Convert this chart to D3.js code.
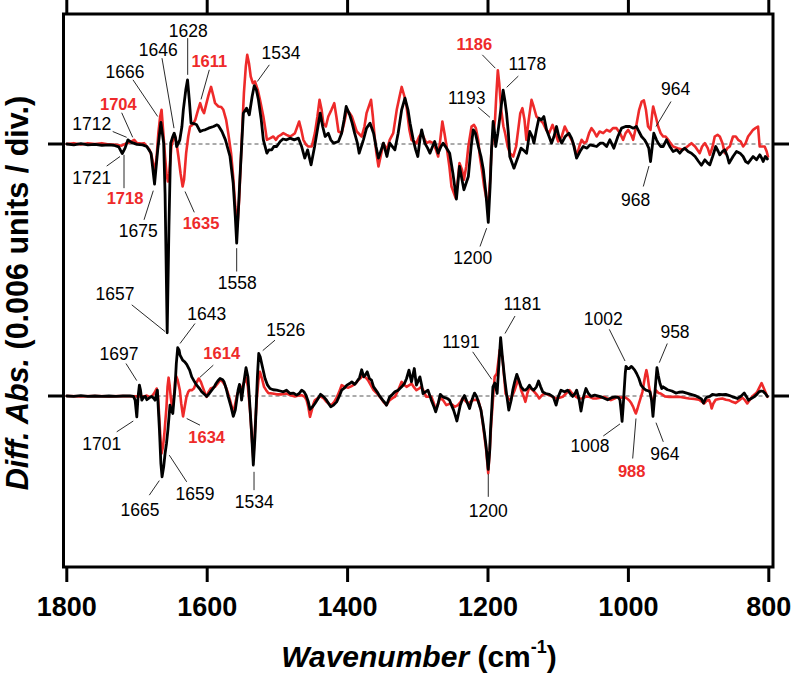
<!DOCTYPE html>
<html><head><meta charset="utf-8">
<script src="https://cdn.jsdelivr.net/npm/d3@7/dist/d3.min.js"></script>
<style>
html,body{margin:0;padding:0;background:#fff;}
svg{display:block;font-family:"Liberation Sans",Arial,Helvetica,sans-serif;}
</style></head>
<body><svg id="c" width="791" height="674"></svg>
<script>
// x: wavenumber (cm-1); values: difference absorbance in units of 1e-5
const xTicks = [1800, 1600, 1400, 1200, 1000, 800];

const upperBlack = [[1800,0],[1790,-2],[1780,1],[1770,-2],[1760,-1],[1750,-3],[1740,-2],[1733,-3],[1726,-7],[1721,-23],[1717,-10],[1713,10],[1708,4],[1700,-1],[1692,-2],[1686,-6],[1680,-22],[1675,-96],[1670.5,-14],[1666,52],[1662,2],[1660,-120],[1657,-453],[1654.5,-200],[1652,2],[1649,18],[1647,26],[1645,14],[1643.5,-6],[1641,2],[1639,10],[1636,42],[1634,82],[1630.5,130],[1628,154],[1625.5,106],[1623,50],[1619,49],[1615,46],[1610,30],[1606,33],[1603,34],[1598,38],[1591,42],[1586,46],[1584,44],[1579,30],[1574,10],[1567.5,-30],[1563,-94],[1560,-174],[1558,-238],[1556,-174],[1553.5,-86],[1550.5,10],[1548.5,74],[1544,86],[1540,70],[1536,114],[1533,140],[1530,130],[1527,106],[1523,58],[1520,10],[1515,-22],[1512,-14],[1508,-14],[1505,-6],[1501,-6],[1496,6],[1492,12],[1487,10],[1482,14],[1476,10],[1470,14],[1465.5,-6],[1461,-34],[1457,-14],[1452,-50],[1447,-6],[1443,34],[1439,74],[1435.5,42],[1432,18],[1427.5,26],[1424,10],[1420,2],[1413,6],[1408.5,26],[1405,58],[1402,90],[1397,70],[1393.5,50],[1390,26],[1386,2],[1383.5,-22],[1377.5,10],[1373,38],[1368,50],[1363,26],[1359.5,-6],[1356,-34],[1349,2],[1344,-30],[1340,2],[1332.6,-14],[1328,26],[1323,82],[1318.3,110],[1314,82],[1311,50],[1306.5,10],[1303,-14],[1300,-30],[1297,10],[1294.5,34],[1290,2],[1286,-10],[1282.7,-22],[1279,-6],[1276,6],[1271,-22],[1267,-6],[1264,2],[1259,-10],[1254.6,-22],[1250,-70],[1245,-132],[1240.6,-54],[1234.3,-110],[1228,-78],[1224,-6],[1221,34],[1218,26],[1213.7,-6],[1210,-30],[1206.6,-62],[1203,-118],[1199.6,-188],[1197,-102],[1195,-14],[1192.7,54],[1190.5,26],[1189,-6],[1186,26],[1183,66],[1178.4,129],[1176,105],[1173.6,74],[1171,26],[1169,-30],[1163,-58],[1157,-30],[1153,-10],[1150,-14],[1145,-22],[1140.5,30],[1137,18],[1134.6,2],[1131,34],[1127.5,62],[1124,58],[1120.4,66],[1116.6,34],[1113,18],[1109.5,2],[1106,18],[1102.4,42],[1099,18],[1095,2],[1090,18],[1084.8,26],[1081,14],[1078.6,2],[1073.8,-34],[1069,-18],[1064.4,-6],[1059,-10],[1054.8,-2],[1050,-4],[1045.3,-6],[1040,2],[1035.9,2],[1031,-6],[1026.4,10],[1020.7,-10],[1015,18],[1009.7,38],[1004,42],[998,42],[993,38],[988.5,42],[985,30],[981.3,18],[977,10],[974.2,2],[971,-10],[968.5,-42],[966,-6],[963.8,26],[960,10],[957.6,2],[954,-6],[950.5,-6],[945.7,10],[941,-6],[936.3,-18],[931,-14],[926.8,-22],[923,-14],[919.7,-10],[915,-18],[910.2,-22],[905,-30],[900,-42],[896,-51],[891,-38],[887,-46],[884,-50],[880,-30],[875.6,-6],[872,-18],[869.8,-26],[866,-18],[862.7,-14],[859,-30],[856.5,-46],[851,-30],[846,-18],[841,-22],[836.6,-30],[833,-42],[829.5,-46],[826,-38],[822.4,-30],[817.5,-38],[812.8,-26],[810,-34],[808,-42],[805,-30],[802,-36]];

const upperRed = [[1800,0],[1790,2],[1780,-1],[1770,2],[1760,0],[1750,2],[1740,-1],[1730,-2],[1722,-4],[1716,1],[1710,4],[1704,10],[1700,2],[1694,1],[1690,2],[1686,-6],[1682,-14],[1679,-30],[1676,-54],[1674,-62],[1672,-30],[1669.6,26],[1667,66],[1665,82],[1662.5,26],[1660,-30],[1658,-70],[1656,-90],[1654,-70],[1651,-6],[1648,14],[1645.8,18],[1643,-6],[1641,-30],[1638,-70],[1635,-102],[1633,-86],[1630,-22],[1627,18],[1624.4,42],[1621,46],[1617,58],[1613,82],[1610,98],[1607,82],[1604.5,74],[1601,98],[1598,118],[1594.5,137],[1591,114],[1588.8,98],[1584,90],[1580,89],[1577,82],[1573,58],[1570,26],[1566,-22],[1563,-78],[1560,-150],[1557,-198],[1554.5,-134],[1552,-38],[1549.5,58],[1547.7,122],[1545,186],[1543,214],[1540.5,194],[1538,162],[1535,146],[1532,150],[1528,130],[1524.8,106],[1520,66],[1517,34],[1515,10],[1510,14],[1505.8,18],[1502,10],[1499,18],[1495,22],[1491.6,26],[1487,22],[1482,18],[1478,22],[1475,26],[1469,54],[1466,34],[1463,10],[1459,-2],[1456,-6],[1451,-6],[1446.6,26],[1443,66],[1440,106],[1437,82],[1434.6,50],[1431,42],[1427.5,66],[1423,82],[1419,98],[1416,66],[1413,30],[1408.5,26],[1405,50],[1401,82],[1397,74],[1394,66],[1390,46],[1387,30],[1380,18],[1376,42],[1373,74],[1366.6,106],[1364,66],[1362,26],[1359,-22],[1356,-54],[1352,-22],[1349,2],[1344,-14],[1340,10],[1335,26],[1330,82],[1326,114],[1323,137],[1319,114],[1316,90],[1312,34],[1309,10],[1302,2],[1298,18],[1294.5,26],[1290,10],[1287.6,2],[1283,6],[1278,2],[1274,-14],[1271,-30],[1268,10],[1265,54],[1262,26],[1259,-6],[1255,-54],[1252,-102],[1246,-130],[1243,-86],[1240.6,-46],[1237,-62],[1234.3,-86],[1231,-54],[1228,-6],[1223.4,42],[1220,46],[1217.3,38],[1214,10],[1211.6,-30],[1208,-70],[1205.5,-102],[1202,-134],[1199.6,-142],[1197,-86],[1195,-14],[1192,26],[1190,58],[1188,122],[1186,177],[1184,146],[1181.2,82],[1178,42],[1175.6,26],[1172,-6],[1168.8,-22],[1164,-30],[1160,-6],[1157,34],[1154,74],[1151,86],[1148,58],[1145.3,10],[1142,58],[1138,106],[1135,90],[1131,66],[1126,58],[1121.5,50],[1117,34],[1113,26],[1108,46],[1104,26],[1100,6],[1095,18],[1090.6,42],[1086,26],[1081,10],[1077,-6],[1073.8,-30],[1070,-6],[1066.7,10],[1063,2],[1059.6,6],[1056,26],[1052.5,38],[1049,30],[1045.3,18],[1041,30],[1035.9,26],[1031,34],[1026.4,30],[1022,38],[1016.9,38],[1012,26],[1007.5,10],[1004,26],[1000.3,34],[996,22],[993.2,10],[989,42],[984.7,82],[981,102],[978,105],[975,82],[972,42],[968.5,34],[966,74],[964.7,90],[961,66],[957.6,42],[954,26],[950.5,18],[947,18],[943.3,10],[940,2],[936.3,-6],[930,-10],[922,-14],[916,-6],[910.2,2],[905,-6],[898.4,-22],[895,-6],[891,2],[887,-10],[884,-26],[880,-6],[877,18],[873,22],[869.8,18],[866,2],[862.7,-22],[859,-10],[855.6,-6],[851,18],[847,18],[843.7,10],[840,6],[836.6,-6],[833,2],[829.5,18],[826,26],[822.4,34],[819,38],[815.3,42],[813,-6],[809,-6],[805.9,-6],[803,-18],[801.2,-30]];

const lowerBlack = [[1800,0],[1790,-1],[1780,1],[1770,-1],[1760,0],[1750,-1],[1740,0],[1730,-1],[1720,0],[1710,0],[1705,-1],[1702.7,-10],[1700.3,-50],[1698.5,-2],[1696.6,26],[1695,14],[1693.2,-10],[1690,-2],[1688,-1],[1686,-9],[1682,-4],[1679,-1],[1676,-6],[1674.3,-10],[1671,14],[1668,-82],[1666,-162],[1664.3,-194],[1662,-170],[1660,-138],[1658,-114],[1656,-82],[1653,-22],[1651,-34],[1649,-42],[1645.8,22],[1644,78],[1642,116],[1640,110],[1638.7,98],[1635,86],[1632,82],[1629.2,76],[1625,62],[1622,46],[1618,34],[1615,26],[1611,18],[1607.8,10],[1604,4],[1600.7,-1],[1597,6],[1593.5,14],[1590,22],[1587.4,30],[1584,38],[1581.7,42],[1578,39],[1576,34],[1573,18],[1570,-2],[1566,-26],[1562.8,-49],[1560,-34],[1558,-10],[1556,14],[1554,28],[1552,6],[1551,-10],[1548,30],[1544.7,68],[1542,46],[1540,-2],[1537,-82],[1534.3,-166],[1532,-98],[1530.4,-34],[1528.5,46],[1526.6,102],[1524.5,94],[1522.4,78],[1517.6,42],[1514,26],[1510.5,18],[1506,15],[1501,14],[1496,12],[1491.6,10],[1487,14],[1482,6],[1477,7],[1472.6,2],[1469,6],[1465.4,14],[1462,10],[1459.3,2],[1456,-14],[1453.6,-32],[1450,-26],[1446.5,-18],[1442,-6],[1438.5,4],[1434,-2],[1430,-10],[1427,-18],[1424,-26],[1420,-22],[1415.6,-14],[1412,-1],[1408.5,14],[1404,20],[1401,26],[1397,30],[1394,34],[1390,28],[1387,34],[1383,44],[1380,63],[1377,46],[1375,50],[1372,58],[1369,42],[1366,38],[1363,22],[1358,10],[1354,-1],[1350,-10],[1346,-18],[1344.6,-22],[1340,-2],[1336,4],[1332.6,10],[1328,14],[1323,22],[1319,30],[1316,42],[1312.6,62],[1309,34],[1305,66],[1302,26],[1299,38],[1297,46],[1294.5,26],[1292.6,6],[1289,10],[1285.5,14],[1283,2],[1280.7,-10],[1277,-26],[1274.5,-38],[1271,-18],[1268,4],[1265,-1],[1261.8,-4],[1258,-6],[1254.7,-10],[1252,-22],[1249,-34],[1246,-50],[1244.3,-60],[1242,-42],[1239.5,-22],[1236,-6],[1233.5,1],[1230,-14],[1226.3,-30],[1223,-10],[1219.2,7],[1216,-2],[1213,-18],[1210,-34],[1207.4,-62],[1205,-90],[1202.6,-122],[1199.7,-176],[1197.5,-130],[1196.4,-82],[1194.5,-26],[1193,22],[1190.3,31],[1188,14],[1187,6],[1185,62],[1182,140],[1179.5,94],[1176.6,46],[1173,-2],[1170.4,-34],[1167,-10],[1164.7,14],[1162,34],[1159,52],[1156,38],[1152.8,22],[1149,14],[1146.7,14],[1144,18],[1141,26],[1138,18],[1134.8,14],[1131,22],[1128,36],[1125,22],[1122,10],[1118,6],[1112.5,4],[1107,-2],[1103,-22],[1100,-2],[1096,14],[1091,10],[1086.5,14],[1082,4],[1079.4,-1],[1076,6],[1073.7,14],[1070,-10],[1067.5,-36],[1064,-2],[1060.4,18],[1057,6],[1053.3,-1],[1048,2],[1041.4,-1],[1036,-4],[1029.6,-9],[1024,-4],[1017.7,-2],[1014,-4],[1012,-10],[1010.5,-34],[1009,-61],[1007.5,-26],[1006,14],[1004.5,54],[1003.4,71],[1001,66],[998.7,66],[996,71],[994,68],[991,62],[988.3,54],[985,42],[982,26],[978,18],[975,14],[971,12],[969.3,10],[967,-10],[965,-49],[963,-10],[961.6,22],[959.3,68],[957.5,50],[955,30],[952.5,18],[950.5,22],[947,18],[944.3,15],[938,12],[932.4,7],[928,9],[923,10],[917,7],[911,4],[905,1],[899,-4],[896,-7],[893,-17],[890,-6],[887.4,-2],[884,-1],[880.3,4],[875,2],[870.8,4],[866,3],[861.3,4],[856,1],[851.8,-2],[848,-4],[844.7,-6],[840,-1],[835,7],[832,-1],[829,-10],[825,-6],[821,-2],[817,4],[814,10],[811,12],[808,11],[805,6],[802,-1]];

const lowerRed = [[1800,0],[1780,-1],[1760,0],[1740,-1],[1720,0],[1700,-1],[1690,-1],[1686,1],[1682,-2],[1679,-1],[1675.8,6],[1672,18],[1670,-2],[1668.3,-50],[1666.5,-106],[1665,-138],[1663,-122],[1661,-90],[1659.5,-58],[1658,-26],[1656.5,22],[1655,44],[1653.5,26],[1652,-2],[1650.5,-22],[1649,-26],[1647,6],[1645.5,38],[1644,47],[1642,38],[1639,14],[1637,-18],[1634.4,-49],[1632,-26],[1629.5,-2],[1627,10],[1625,14],[1622,14],[1619,18],[1616,30],[1612,42],[1609,34],[1606.5,22],[1603,6],[1600.7,-2],[1598,10],[1595,18],[1592,20],[1589,22],[1585,30],[1581.7,39],[1578,34],[1574.6,26],[1571,10],[1567.5,-10],[1565,-26],[1562.8,-42],[1560,-18],[1557,6],[1554.5,10],[1552.3,14],[1548,30],[1544.7,44],[1542,22],[1539,-34],[1536.5,-98],[1534.3,-150],[1532,-82],[1529.5,-10],[1527,38],[1524.8,58],[1522,42],[1519,22],[1516,14],[1513,7],[1507,6],[1501,4],[1494,4],[1487,6],[1481,2],[1475,-1],[1470,1],[1465.4,2],[1461,-2],[1458.4,-10],[1456,-26],[1453.6,-50],[1451,-34],[1448.5,-18],[1446.6,-10],[1442,-4],[1438.5,-1],[1434,-6],[1430,-14],[1426,-20],[1423,-22],[1419,-14],[1415,-2],[1412,10],[1408.5,26],[1404,22],[1399,20],[1395,23],[1392,26],[1388,31],[1385,38],[1381,44],[1378,50],[1374,44],[1371,38],[1367,26],[1363,14],[1358,6],[1354,-2],[1349,-14],[1344.6,-22],[1340,-10],[1335,-4],[1332.6,-2],[1328,14],[1323,34],[1319,26],[1316,22],[1312,26],[1309,30],[1305,20],[1302,14],[1298,18],[1295,22],[1291,10],[1288,-2],[1284,-1],[1280.7,-2],[1277,-18],[1274.5,-34],[1271,-18],[1268,-4],[1264,-10],[1259.4,-22],[1253.6,-18],[1250,-22],[1247.5,-26],[1242.8,-22],[1239,-14],[1236.5,-6],[1232,-12],[1228.5,-18],[1225,-14],[1221.4,-10],[1218,-9],[1214,-10],[1210,-34],[1207.4,-66],[1205,-98],[1202.6,-130],[1199.7,-185],[1197.5,-130],[1195.4,-66],[1193,-10],[1190.5,46],[1187.4,54],[1185,86],[1183.4,110],[1179.6,94],[1177,46],[1175,6],[1171,-6],[1168,-10],[1165,2],[1162,14],[1159,30],[1157,42],[1155,30],[1152.8,14],[1149,-2],[1146.7,-14],[1144,6],[1141,22],[1137,15],[1134,10],[1130,2],[1127,-6],[1123,2],[1120,6],[1116,4],[1112.5,2],[1108,-2],[1103,-6],[1098,-4],[1093.6,-2],[1089,6],[1084,14],[1080,6],[1074.6,-2],[1070,-6],[1065,-6],[1060,-1],[1055.7,-2],[1050,-6],[1046,-6],[1040,-4],[1034.5,-2],[1030,-6],[1025,-10],[1020,-6],[1015.5,-2],[1010,-4],[1006,-2],[1002,-6],[999,-10],[996,-17],[993.2,-26],[991,-36],[989.4,-42],[987,-30],[985,-18],[983.5,-10],[980,10],[977.6,34],[976,50],[974.3,62],[972.5,46],[970.6,22],[968,2],[965.6,-18],[963.5,-6],[961,14],[957,7],[954,6],[948,-1],[942,-2],[935,-2],[927.8,-2],[920,-4],[913.6,-6],[906,-7],[899.5,-9],[895,-14],[892.3,-18],[889,-12],[885.2,-9],[883,-18],[881.4,-30],[879,-18],[875.7,-9],[871,-7],[866.3,-6],[861,-9],[856.8,-10],[852,-14],[847.3,-17],[842,-10],[837.8,-4],[834,-10],[830.7,-18],[827,-9],[823.6,-1],[820,4],[816.5,10],[813,22],[810.3,31],[808,22],[805,10],[802,-2]];

// peak annotations: label, colour key, text anchor (wn, value), leader line (wn1, v1, wn2, v2)
const upperLabels = [
 ["1628","k",1626.9,272,1627.8,254,1627.8,166],
 ["1646","k",1669.7,226,1664.4,206,1647.3,38],
 ["1666","k",1717.1,174,1705.7,154,1670.5,66],
 ["1611","r",1597,198,1597,178,1608.8,107],
 ["1704","r",1726.6,96,1721.8,75,1706.1,16],
 ["1712","k",1764.5,48,1734.6,30,1714.7,16],
 ["1721","k",1764.5,-80,1743.2,-53,1724.2,-30],
 ["1718","r",1717.1,-130,1718.5,-106,1718.5,-26],
 ["1675","k",1698.1,-208,1690,-182,1676.8,-112],
 ["1635","r",1608.8,-189,1618.4,-164,1631.6,-114],
 ["1558","k",1557.1,-333,1558,-306,1558,-250],
 ["1534","k",1494.9,219,1511.5,190,1528.6,150],
 ["1657","k",1731.3,-359,1707.5,-386,1660.1,-450],
 ["1186","r",1219.5,239,1208.1,214,1189.6,182],
 ["1178","k",1144,192,1156.8,163,1173.4,136],
 ["1193","k",1230.3,112,1213.8,88,1197.2,64],
 ["1200","k",1221.8,-273,1211.4,-246,1201.9,-202],
 ["964","k",932.6,132,939.3,102,960.7,42],
 ["968","k",989.6,-134,978.8,-102,970.7,-53]
];
const lowerLabels = [
 ["1643","k",1600.7,197,1617.4,174,1638.7,126],
 ["1697","k",1725.6,102,1715.7,78,1700.4,37],
 ["1614","r",1579.3,104,1591.3,74,1610.3,45],
 ["1526","k",1488.2,158,1503.4,134,1520.9,109],
 ["1701","k",1750.3,-114,1728.9,-86,1705.3,-60],
 ["1634","r",1600.7,-98,1610.3,-70,1629.2,-54],
 ["1665","k",1695.7,-274,1682.5,-238,1668.2,-203],
 ["1659","k",1617.4,-234,1629.2,-206,1654,-142],
 ["1534","k",1532.9,-254,1533.3,-226,1533.3,-182],
 ["1181","k",1151.1,221,1161.5,192,1175.8,150],
 ["1191","k",1238.5,130,1221.8,106,1194.7,40],
 ["1200","k",1199.6,-275,1199.6,-242,1199.6,-187],
 ["1002","k",1035.8,186,1027.2,160,1004.8,84],
 ["958","k",933.6,154,944.6,126,956,80],
 ["1008","k",1054.7,-120,1035.8,-96,1012,-67],
 ["988","r",995.3,-179,993.9,-150,989.2,-54],
 ["964","k",947.9,-139,950.3,-110,960.7,-64]
];

const COL = {k:"#000000", r:"#ee2a2a"};
const svg = d3.select("#c");
const frame = {l:63.5, r:773, t:14, b:567};
const x = d3.scaleLinear().domain([1800, 800]).range([66.8, 768.8]);
const yU = d3.scaleLinear().domain([-600, 600]).range([144+250, 144-250]);
const yL = d3.scaleLinear().domain([-600, 600]).range([396+250, 396-250]);

// baselines (dashed)
[yU, yL].forEach(y => {
  svg.append("line").attr("x1", frame.l+2).attr("x2", frame.r-2)
    .attr("y1", y(0)).attr("y2", y(0))
    .attr("stroke", "#444").attr("stroke-width", 0.9).attr("stroke-dasharray", "4,3");
});

function drawLine(data, y, color, w) {
  const line = d3.line().x(d => x(d[0])).y(d => y(d[1]));
  svg.append("path").datum(data).attr("d", line)
    .attr("fill", "none").attr("stroke", color).attr("stroke-width", w)
    .attr("stroke-linejoin", "round").attr("stroke-linecap", "round");
}
drawLine(upperRed, yU, COL.r, 2.6);
drawLine(upperBlack, yU, COL.k, 2.8);
drawLine(lowerRed, yL, COL.r, 2.6);
drawLine(lowerBlack, yL, COL.k, 2.8);

function drawLabels(list, y) {
  list.forEach(a => {
    svg.append("line").attr("x1", x(a[4])).attr("y1", y(a[5]))
      .attr("x2", x(a[6])).attr("y2", y(a[7]))
      .attr("stroke", "#111").attr("stroke-width", 0.9);
    const t = svg.append("text").attr("x", x(a[2])).attr("y", y(a[3]))
      .attr("text-anchor", "middle").attr("dy", "0.36em")
      .attr("fill", COL[a[1]]).text(a[0]);
    if (a[1] === "r") t.attr("font-weight", "bold").attr("font-size", 16.5);
    else t.attr("font-size", 17.5);
  });
}
drawLabels(upperLabels, yU);
drawLabels(lowerLabels, yL);

// frame
svg.append("rect").attr("x", frame.l).attr("y", frame.t)
  .attr("width", frame.r - frame.l).attr("height", frame.b - frame.t)
  .attr("fill", "none").attr("stroke", "#000").attr("stroke-width", 3);

// x ticks top and bottom
xTicks.forEach(v => {
  svg.append("line").attr("x1", x(v)).attr("x2", x(v)).attr("y1", frame.b).attr("y2", frame.b + 15)
    .attr("stroke", "#000").attr("stroke-width", 3);
  svg.append("line").attr("x1", x(v)).attr("x2", x(v)).attr("y1", 0).attr("y2", frame.t)
    .attr("stroke", "#000").attr("stroke-width", 3);
  svg.append("text").attr("x", x(v)).attr("y", 616).attr("text-anchor", "middle")
    .attr("font-size", 27).attr("font-weight", "bold").text(v);
});
// y ticks at the zero lines
[yU, yL].forEach(y => {
  svg.append("line").attr("x1", 48).attr("x2", frame.l).attr("y1", y(0)).attr("y2", y(0))
    .attr("stroke", "#000").attr("stroke-width", 3);
  svg.append("line").attr("x1", frame.r).attr("x2", 789).attr("y1", y(0)).attr("y2", y(0))
    .attr("stroke", "#000").attr("stroke-width", 3);
});

// axis titles
const xt = svg.append("text").attr("x", 419).attr("y", 667).attr("text-anchor", "middle")
  .attr("font-size", 30).attr("font-weight", "bold");
xt.append("tspan").attr("font-style", "italic").text("Wavenumber");
xt.append("tspan").text(" (cm");
xt.append("tspan").attr("font-size", 18).attr("dy", -14).text("-1");
xt.append("tspan").attr("dy", 14).text(")");

const yt = svg.append("text").attr("transform", "translate(28,293) rotate(-90)")
  .attr("text-anchor", "middle").attr("font-size", 30.5).attr("font-weight", "bold");
yt.append("tspan").attr("font-style", "italic").text("Diff. Abs.");
yt.append("tspan").text(" (0.006 units / div.)");
</script></body></html>
